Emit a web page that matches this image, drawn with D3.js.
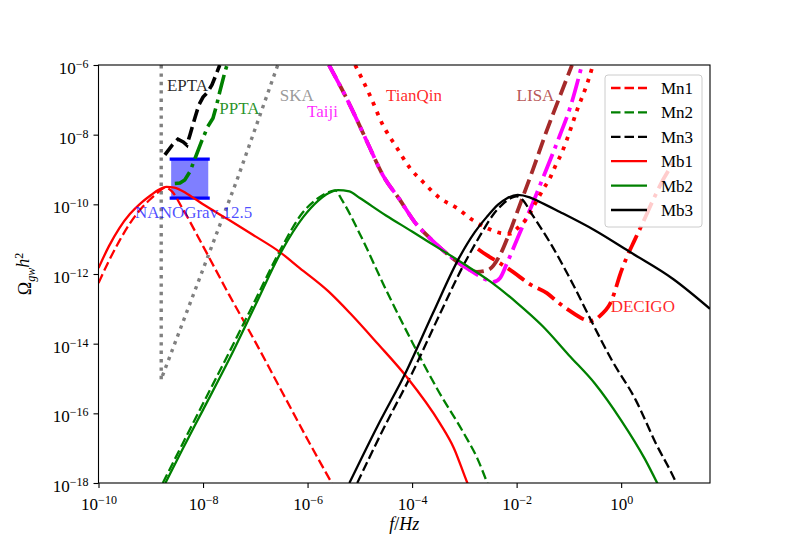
<!DOCTYPE html>
<html>
<head>
<meta charset="utf-8">
<script src="https://cdn.jsdelivr.net/npm/d3@7"></script>
<style>
	body { margin: 0; background: #fff; }
	text { font-family: "Liberation Serif", "Times New Roman", serif; }
</style>
</head>
<body>
<svg id="chart" width="789" height="552"></svg>
<script>

// all pairs are [log10(f / Hz), log10(Omega_gw h^2)]
const mn1 = [[-10,-12.26],[-9.8,-11.62],[-9.6,-11.05],[-9.4,-10.55],[-9.2,-10.15],[-9.0,-9.84],[-8.85,-9.64],[-8.72,-9.52],[-8.6,-9.62],[-8.4,-10.1],[-8.0,-11.2],[-7.5,-12.6],[-7.0,-13.95],[-6.5,-15.35],[-6.0,-16.75],[-5.5,-18.1]];
const mn2 = [[-8.77,-18.0],[-8.4,-16.9],[-8.0,-15.72],[-7.5,-14.25],[-7.0,-12.75],[-6.5,-11.25],[-6.1,-10.25],[-5.8,-9.82],[-5.6,-9.65],[-5.47,-9.6],[-5.34,-9.88],[-5.0,-10.85],[-4.5,-12.45],[-4.0,-13.95],[-3.5,-15.35],[-3.0,-16.6],[-2.75,-17.3],[-2.57,-17.97],[-2.55,-18.05]];
const mn3 = [[-5.05,-18.0],[-4.55,-16.45],[-4.0,-14.85],[-3.5,-13.25],[-3.0,-11.7],[-2.7,-10.9],[-2.45,-10.3],[-2.25,-9.97],[-2.08,-9.8],[-2.0,-9.77],[-1.9,-9.85],[-1.7,-10.3],[-1.36,-11.1],[-0.92,-12.3],[-0.58,-13.32],[-0.18,-14.47],[0.28,-15.62],[0.66,-16.85],[1.03,-17.92],[1.06,-18.02]];
const mb1 = [[-10,-11.83],[-9.8,-11.2],[-9.6,-10.68],[-9.4,-10.28],[-9.2,-9.98],[-9.0,-9.74],[-8.85,-9.58],[-8.7,-9.5],[-8.55,-9.52],[-8.3,-9.7],[-8.0,-10.0],[-7.5,-10.45],[-7.04,-10.88],[-6.53,-11.37],[-6.15,-11.83],[-5.6,-12.5],[-5.19,-13.12],[-4.67,-13.98],[-4.1,-14.96],[-3.47,-16.28],[-3.2,-17.0],[-2.95,-17.97],[-2.9,-18.15]];
const mb2 = [[-8.72,-18.0],[-8.4,-17.05],[-8.0,-15.9],[-7.5,-14.45],[-7.0,-12.9],[-6.5,-11.35],[-6.08,-10.36],[-5.8,-9.9],[-5.6,-9.68],[-5.42,-9.59],[-5.2,-9.63],[-5.0,-9.82],[-4.5,-10.32],[-4.0,-10.78],[-3.5,-11.25],[-3.0,-11.72],[-2.5,-12.22],[-2.0,-12.82],[-1.5,-13.5],[-1.0,-14.33],[-0.5,-15.15],[0.0,-16.2],[0.45,-17.3],[0.7,-18.03]];
const mb3 = [[-5.2,-18.0],[-4.67,-16.39],[-4.1,-14.76],[-3.6,-13.12],[-3.09,-11.51],[-2.8,-10.8],[-2.57,-10.36],[-2.35,-10.0],[-2.19,-9.83],[-1.98,-9.73],[-1.75,-9.8],[-1.6,-9.9],[-1.17,-10.22],[-0.5,-10.75],[0.17,-11.37],[1.0,-12.15],[1.7,-13.0]];

// detector sensitivity curves
const epta = [[-8.73,-8.58],[-8.59,-8.30],[-8.48,-8.13],[-8.38,-8.21],[-8.31,-8.30],[-8.25,-8.01],[-8.15,-7.49],[-8.08,-7.15],[-8.0,-6.92],[-7.91,-6.78],[-7.83,-6.57],[-7.77,-6.35],[-7.68,-6.0]];
const ppta = [[-8.54,-9.40],[-8.44,-9.39],[-8.35,-9.30],[-8.25,-9.06],[-8.15,-8.67],[-8.03,-8.20],[-7.91,-7.77],[-7.81,-7.53],[-7.74,-7.15],[-7.68,-6.77],[-7.58,-6.19],[-7.54,-6.0]];
const ska = [[-8.8,-6.0],[-8.8,-15.04],[-8.77,-14.9],[-7.35,-9.3],[-6.57,-6.0]];
const taiji = [[-5.59,-6.0],[-5.19,-7.15],[-4.86,-8.21],[-4.56,-9.16],[-4.23,-9.88],[-3.95,-10.51],[-3.66,-10.97],[-3.28,-11.48],[-2.84,-11.94],[-2.57,-12.17],[-2.45,-12.23],[-2.32,-12.12],[-2.19,-11.71],[-1.94,-10.82],[-1.69,-9.96],[-1.52,-9.33],[-1.17,-8.01],[-0.98,-7.24],[-0.75,-6.0]];
const lisa = [[-5.59,-6.0],[-5.19,-7.15],[-4.86,-8.21],[-4.56,-9.16],[-4.23,-9.88],[-3.95,-10.51],[-3.66,-10.97],[-3.28,-11.48],[-2.99,-11.80],[-2.76,-11.94],[-2.55,-11.89],[-2.32,-11.46],[-2.13,-10.79],[-1.94,-10.02],[-1.69,-9.01],[-1.44,-7.95],[-1.17,-6.89],[-0.94,-6.0]];
const tianqin = [[-5.09,-6.0],[-4.81,-6.86],[-4.56,-7.72],[-4.29,-8.38],[-4.04,-8.96],[-3.79,-9.36],[-3.47,-9.82],[-3.14,-10.11],[-2.84,-10.45],[-2.57,-10.68],[-2.32,-10.82],[-2.13,-10.85],[-1.98,-10.68],[-1.8,-10.39],[-1.65,-9.99],[-1.5,-9.59],[-1.36,-9.24],[-1.25,-8.87],[-1.13,-8.5],[-1.04,-8.15],[-0.94,-7.72],[-0.83,-7.24],[-0.73,-6.86],[-0.64,-6.49],[-0.54,-6.0]];
const decigo = [[-2.74,-11.28],[-2.57,-11.46],[-2.32,-11.69],[-2.07,-11.94],[-1.75,-12.29],[-1.42,-12.55],[-1.21,-12.81],[-0.98,-13.06],[-0.73,-13.29],[-0.6,-13.35],[-0.48,-13.29],[-0.37,-13.15],[-0.25,-12.95],[-0.18,-12.75],[-0.1,-12.4],[-0.03,-12.06],[0.11,-11.51],[0.26,-11.02],[0.42,-10.51],[0.61,-9.88],[0.8,-9.3],[1.0,-8.8]];

// NANOGrav 12.5 yr box: frequency span and Omega span
const nanogravF = [-8.61, -7.90];
const nanogravOmega = [-9.82, -8.70];

// curve labels: text, position
const labelTexts = ["EPTA", "PPTA", "SKA", "Taiji", "TianQin", "LISA", "DECIGO", "NANOGrav 12.5"];
const labelPos = [[-8.69,-6.75],[-7.69,-7.42],[-6.53,-7.03],[-6.01,-7.49],[-4.5,-7.03],[-2.0,-7.03],[-0.2,-13.1],[-9.3,-10.38]];

const legendNames = ["Mn1", "Mn2", "Mn3", "Mb1", "Mb2", "Mb3"];

const xTicks = [-10, -8, -6, -4, -2, 0];
const yTicks = [-6, -8, -10, -12, -14, -16, -18];

const svg = d3.select("#chart");
const margin = {left: 98.5, right: 710, top: 65, bottom: 483};

const x = d3.scaleLog().domain([1e-10, Math.pow(10, 1.7)]).range([margin.left, margin.right]);
const y = d3.scaleLog().domain([1e-18, 1e-6]).range([margin.bottom, margin.top]);

const px = d => x(Math.pow(10, d[0]));
const py = d => y(Math.pow(10, d[1]));

svg.append("defs").append("clipPath")
	.attr("id", "plot-clip")
	.append("rect")
	.attr("x", margin.left).attr("y", margin.top)
	.attr("width", margin.right - margin.left)
	.attr("height", margin.bottom - margin.top);

const plot = svg.append("g").attr("clip-path", "url(#plot-clip)");

const smooth = d3.line().x(px).y(py).curve(d3.curveMonotoneX);
const straight = d3.line().x(px).y(py);

// NANOGrav box first, so that the curves sit on top of it
const boxX0 = x(Math.pow(10, nanogravF[0])), boxX1 = x(Math.pow(10, nanogravF[1]));
const boxY0 = y(Math.pow(10, nanogravOmega[1])), boxY1 = y(Math.pow(10, nanogravOmega[0]));
plot.append("rect")
	.attr("x", boxX0).attr("y", boxY0)
	.attr("width", boxX1 - boxX0).attr("height", boxY1 - boxY0)
	.style("fill", "#0000ff").style("fill-opacity", 0.5);
[boxY0, boxY1].forEach(yy => {
	plot.append("line")
		.attr("x1", boxX0 - 1.5).attr("x2", boxX1 + 1.5)
		.attr("y1", yy).attr("y2", yy)
		.style("stroke", "#0000ff").style("stroke-width", 3.2);
});

const detectors = [
	{data: ska, color: "#808080", width: 3.4, dash: "3.4,5", gen: straight},
	{data: epta, color: "#000000", width: 3.6, dash: "13,5.5", gen: straight},
	{data: ppta, color: "#008000", width: 3.6, dash: "20,5.5,3.6,5.5", gen: straight},
	{data: lisa, color: "#a52a2a", width: 3.8, dash: "15,6", gen: smooth},
	{data: taiji, color: "#ff00ff", width: 3.8, dash: "24,6,3.8,6", gen: smooth},
	{data: tianqin, color: "#ff0000", width: 3.8, dash: "3.8,6.5", gen: smooth},
	{data: decigo, color: "#ff0000", width: 3.8, dash: "20,6,3.8,6", gen: smooth}
];

detectors.forEach(det => {
	plot.append("path")
		.attr("d", det.gen(det.data))
		.style("fill", "none")
		.style("stroke", det.color)
		.style("stroke-width", det.width)
		.style("stroke-dasharray", det.dash);
});

const curves = [
	{data: mn1, color: "#ff0000", dash: "9.5,4"},
	{data: mn2, color: "#008000", dash: "9.5,4"},
	{data: mn3, color: "#000000", dash: "9.5,4"},
	{data: mb1, color: "#ff0000", dash: null},
	{data: mb2, color: "#008000", dash: null},
	{data: mb3, color: "#000000", dash: null}
];

curves.forEach(c => {
	plot.append("path")
		.attr("d", smooth(c.data))
		.style("fill", "none")
		.style("stroke", c.color)
		.style("stroke-width", 2.3)
		.style("stroke-dasharray", c.dash);
});

// labels next to the sensitivity curves
const labelColors = ["#000000", "#008000", "#808080", "#ff00ff", "#ff0000", "#a52a2a", "#ff0000", "#0000ff"];
const labelOpacity = [0.85, 0.85, 0.8, 0.85, 0.85, 0.8, 0.85, 0.7];
svg.selectAll(".curve-label")
	.data(labelTexts)
	.enter()
	.append("text")
	.attr("class", "curve-label")
	.attr("x", (d, i) => px(labelPos[i]))
	.attr("y", (d, i) => py(labelPos[i]))
	.style("font-size", "17px")
	.style("fill", (d, i) => labelColors[i])
	.style("fill-opacity", (d, i) => labelOpacity[i])
	.text(d => d);

// axes
function superscriptTicks(g) {
	g.selectAll(".tick text").each(function(d) {
		const e = Math.round(Math.log10(d));
		const t = d3.select(this);
		t.text(null);
		t.append("tspan").text("10");
		t.append("tspan")
			.attr("dy", "-0.5em")
			.style("font-size", "12px")
			.text(e === 0 ? "0" : "\u2212" + Math.abs(e));
	});
}

const xAxis = d3.axisBottom(x)
	.tickValues(xTicks.map(v => Math.pow(10, v)))
	.tickSize(5)
	.tickSizeOuter(0)
	.tickPadding(10);

const yAxis = d3.axisLeft(y)
	.tickValues(yTicks.map(v => Math.pow(10, v)))
	.tickSize(5)
	.tickSizeOuter(0)
	.tickPadding(5);

const gx = svg.append("g")
	.attr("transform", "translate(0," + margin.bottom + ")")
	.call(xAxis);
gx.call(superscriptTicks);

const gy = svg.append("g")
	.attr("transform", "translate(" + margin.left + ",0)")
	.call(yAxis);
gy.call(superscriptTicks);
gy.selectAll(".tick text").attr("dy", "0.5em");

[gx, gy].forEach(g => {
	g.select(".domain").remove();
	g.selectAll(".tick line").style("stroke", "#000").style("stroke-width", 1.1);
	g.selectAll(".tick text")
		.style("font-family", "'Liberation Serif', serif")
		.style("font-size", "17px")
		.style("fill", "#000");
});

// frame
svg.append("rect")
	.attr("x", margin.left).attr("y", margin.top)
	.attr("width", margin.right - margin.left)
	.attr("height", margin.bottom - margin.top)
	.style("fill", "none")
	.style("stroke", "#000")
	.style("stroke-width", 1.1);

// axis titles
const xTitle = svg.append("text")
	.attr("x", (margin.left + margin.right) / 2)
	.attr("y", 530)
	.attr("text-anchor", "middle")
	.style("font-size", "18px");
xTitle.append("tspan").style("font-style", "italic").text("f");
xTitle.append("tspan").text("/");
xTitle.append("tspan").style("font-style", "italic").text("Hz");

const yTitle = svg.append("text")
	.attr("transform", "translate(31," + ((margin.top + margin.bottom) / 2) + ") rotate(-90)")
	.attr("text-anchor", "middle")
	.style("font-size", "18px");
yTitle.append("tspan").text("\u03a9");
yTitle.append("tspan").attr("dy", "0.3em").style("font-size", "12px").style("font-style", "italic").text("gw");
yTitle.append("tspan").attr("dy", "-0.3em").style("font-style", "italic").text("h");
yTitle.append("tspan").attr("dy", "-0.5em").style("font-size", "12px").text("2");

// legend
const legend = svg.append("g").attr("class", "legend");
legend.append("rect")
	.attr("x", 605).attr("y", 75)
	.attr("width", 97).attr("height", 152)
	.attr("rx", 3)
	.style("fill", "#fff").style("fill-opacity", 0.8)
	.style("stroke", "#cccccc").style("stroke-width", 1);

const rows = legend.selectAll(".row")
	.data(legendNames)
	.enter()
	.append("g")
	.attr("class", "row")
	.attr("transform", (d, i) => "translate(0," + (88 + i * 24.4) + ")");

rows.append("line")
	.attr("x1", 611).attr("x2", 647)
	.style("stroke", (d, i) => curves[i].color)
	.style("stroke-width", 2.3)
	.style("stroke-dasharray", (d, i) => curves[i].dash);

rows.append("text")
	.attr("x", 661)
	.attr("dy", "0.35em")
	.style("font-size", "17px")
	.text(d => d);

</script>
</body>
</html>
